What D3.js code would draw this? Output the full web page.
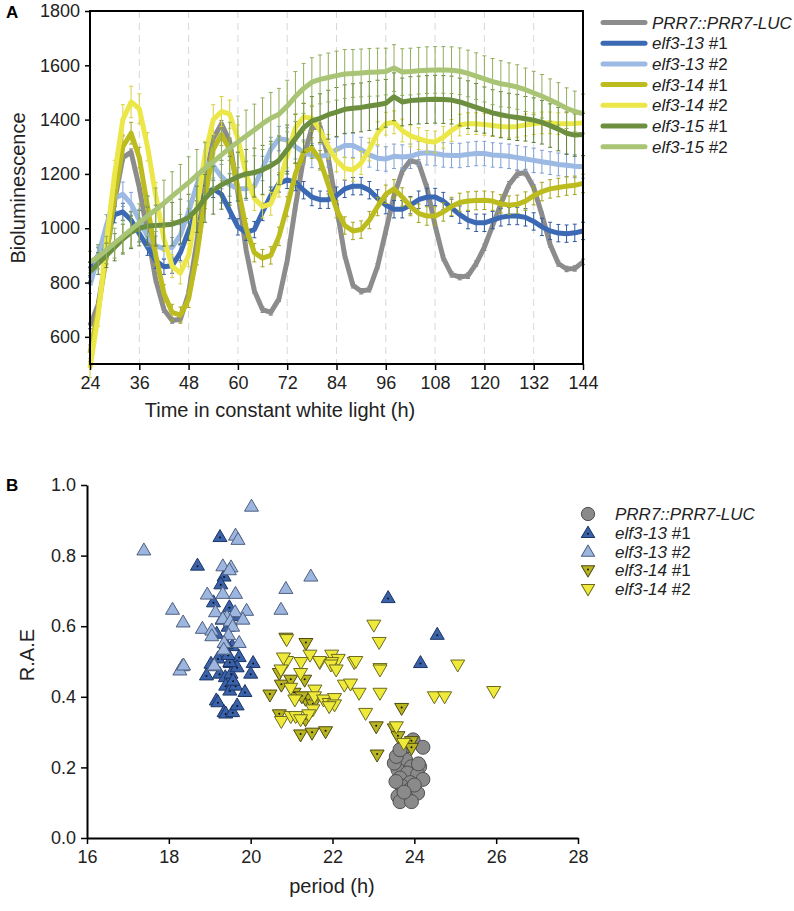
<!DOCTYPE html>
<html><head><meta charset="utf-8">
<script src="https://cdn.jsdelivr.net/npm/d3@7"></script>
<style>
body{margin:0;background:#fff;}
svg{display:block;font-family:"Liberation Sans",Arial,sans-serif;}
</style></head><body>
<svg id="c" width="794" height="911"></svg>
<script>
// ---------- Panel A data ----------
const hours = [24,26,28,30,32,34,36,38,40,42,44,46,48,50,52,54,56,58,60,62,64,66,68,70,72,74,76,78,80,82,84,86,88,90,92,94,96,98,100,102,104,106,108,110,112,114,116,118,120,122,124,126,128,130,132,134,136,138,140,142,144];
const xTicksA = [24,36,48,60,72,84,96,108,120,132,144];
const yTicksA = [600,800,1000,1200,1400,1600,1800];

const prr7 = [640,720,900,1100,1260,1280,1150,980,810,700,660,665,760,950,1170,1330,1385,1320,1130,920,770,700,690,740,880,1080,1260,1370,1375,1260,1080,900,790,768,775,860,990,1120,1210,1250,1240,1150,1010,890,830,820,825,870,930,1010,1090,1160,1200,1205,1150,1050,940,870,850,852,876];
const elf313_1 = [850,900,980,1050,1060,1030,980,930,880,858,862,910,990,1070,1125,1145,1125,1065,1005,985,995,1060,1120,1165,1178,1170,1140,1115,1105,1105,1120,1145,1155,1155,1140,1110,1085,1070,1070,1085,1105,1115,1115,1100,1075,1050,1030,1020,1020,1030,1040,1045,1045,1040,1025,1005,990,982,980,983,990];
const elf313_2 = [790,900,1010,1110,1125,1090,1030,970,935,925,930,975,1060,1160,1240,1230,1190,1160,1145,1145,1155,1220,1290,1330,1325,1300,1280,1268,1265,1270,1290,1305,1305,1290,1270,1258,1255,1265,1262,1265,1275,1278,1275,1270,1268,1268,1272,1275,1275,1270,1268,1265,1260,1255,1250,1245,1240,1235,1232,1228,1226];
const elf314_1 = [540,700,900,1120,1300,1350,1260,1080,900,760,690,680,740,900,1110,1290,1345,1290,1150,1000,910,890,900,970,1080,1200,1280,1295,1250,1160,1070,1010,990,995,1030,1080,1125,1145,1115,1080,1055,1045,1045,1060,1080,1095,1100,1102,1103,1100,1090,1085,1088,1100,1120,1135,1145,1150,1155,1158,1165];
const elf314_2 = [485,680,950,1200,1400,1465,1440,1300,1120,960,860,835,900,1070,1270,1400,1430,1420,1330,1200,1110,1080,1090,1160,1270,1370,1410,1405,1360,1300,1250,1220,1215,1240,1290,1350,1385,1390,1360,1340,1330,1320,1318,1335,1360,1380,1385,1385,1382,1378,1375,1373,1375,1380,1385,1388,1388,1385,1385,1386,1388];
const elf315_1 = [840,870,900,930,960,985,1000,1008,1010,1012,1015,1025,1040,1070,1110,1140,1160,1175,1190,1200,1205,1215,1230,1250,1290,1330,1370,1395,1405,1418,1428,1438,1442,1445,1450,1455,1460,1484,1465,1470,1472,1474,1475,1474,1472,1465,1455,1445,1435,1425,1418,1412,1408,1403,1398,1390,1378,1365,1350,1343,1345];
const elf315_2 = [875,895,920,945,970,995,1020,1045,1068,1092,1118,1143,1168,1195,1220,1245,1270,1295,1318,1340,1362,1385,1405,1420,1450,1485,1515,1538,1548,1555,1562,1568,1570,1572,1574,1575,1577,1590,1575,1577,1580,1582,1583,1583,1582,1578,1570,1560,1550,1540,1532,1527,1520,1510,1498,1486,1472,1458,1442,1430,1422];

const errPrr7 = [10,10,10,12,12,12,12,12,10,10,10,10,10,12,12,12,12,12,12,10,10,10,10,10,12,12,12,12,12,12,10,10,10,10,10,10,12,12,12,12,12,12,10,10,10,10,10,10,12,12,12,12,12,12,10,10,10,10,10,10,10];
const err313_1 = [25,28,30,30,32,32,30,30,28,28,28,30,32,32,32,32,32,30,30,30,30,32,32,32,32,32,32,32,32,32,32,32,32,32,32,32,32,32,32,32,32,32,32,32,32,32,32,32,32,32,32,32,32,32,32,32,32,32,32,32,32];
const err313_2 = [30,35,40,45,45,42,40,38,36,36,36,38,40,42,45,45,45,42,42,42,42,45,45,45,45,45,45,45,45,45,45,45,45,45,45,45,45,45,45,45,45,45,45,45,45,45,45,45,45,45,45,45,45,45,45,42,42,42,42,42,42];
const err314_1 = [30,32,35,38,40,40,38,36,34,32,30,30,32,35,38,40,40,40,38,36,34,32,32,34,36,38,38,38,36,34,32,32,32,32,32,34,34,34,34,34,34,34,34,34,34,34,34,34,34,34,34,34,34,34,34,34,34,34,34,34,34];
const err314_2 = [35,40,45,50,55,58,55,52,48,45,42,40,42,45,50,55,55,52,50,48,45,42,42,45,48,50,50,48,46,45,42,42,42,42,42,42,42,42,42,40,40,40,40,40,40,40,40,40,40,40,40,40,40,40,40,40,40,40,40,40,40];
const err315_1 = [35,40,45,50,55,60,65,70,75,78,80,82,85,85,88,88,90,90,90,90,90,90,90,90,90,90,90,90,90,90,90,90,90,90,90,90,88,88,88,88,88,88,88,88,88,88,88,88,85,85,85,85,85,82,82,80,80,80,78,78,78];
const err315_2 = [40,45,50,55,60,65,70,75,80,85,90,92,95,95,95,95,95,95,95,95,95,95,95,95,95,92,92,90,90,90,90,90,88,88,88,88,86,86,86,86,86,86,86,86,86,86,86,86,85,85,85,82,82,80,80,80,78,78,75,75,72];

// ---------- Panel B data (period h, R.A.E) ----------
const scatterPrr7 = [[23.97,0.278],[24.21,0.257],[23.69,0.24],[23.6,0.212],[23.79,0.221],[23.93,0.202],[24.13,0.202],[23.6,0.193],[23.83,0.184],[24.08,0.18],[24.21,0.166],[23.65,0.17],[23.9,0.157],[23.69,0.147],[23.93,0.142],[24.08,0.127],[23.79,0.118],[23.6,0.118],[23.65,0.103],[23.93,0.103],[23.51,0.212],[23.56,0.231],[23.85,0.262],[23.55,0.16],[24.0,0.15],[23.75,0.13],[24.1,0.21],[23.65,0.25]];
const scatter313_1 = [[19.25,0.854],[18.70,0.773],[19.35,0.742],[19.27,0.72],[19.09,0.669],[19.48,0.655],[19.17,0.58],[19.34,0.526],[19.55,0.545],[19.72,0.514],[20.06,0.497],[19.03,0.495],[19.50,0.497],[23.36,0.681],[24.56,0.577],[24.15,0.497],[18.92,0.462],[19.24,0.467],[19.38,0.457],[19.52,0.467],[19.39,0.433],[19.49,0.419],[19.63,0.433],[19.57,0.447],[19.86,0.415],[20.0,0.467],[19.16,0.391],[19.2,0.386],[19.35,0.358],[19.39,0.354],[19.56,0.358],[19.67,0.377],[19.67,0.485],[19.49,0.5],[19.3,0.62],[19.45,0.6],[19.4,0.55],[19.6,0.63],[19.2,0.51],[19.45,0.52]];
const scatter313_2 = [[17.39,0.816],[20.02,0.94],[19.63,0.858],[19.69,0.846],[19.32,0.771],[19.52,0.768],[19.48,0.76],[18.94,0.691],[19.32,0.693],[19.63,0.693],[18.09,0.648],[19.14,0.641],[19.90,0.645],[19.62,0.641],[18.35,0.612],[19.42,0.627],[19.32,0.622],[19.81,0.62],[19.50,0.615],[18.82,0.594],[19.05,0.589],[19.05,0.573],[19.56,0.60],[19.46,0.576],[19.35,0.554],[19.72,0.554],[19.34,0.535],[18.33,0.488],[19.12,0.488],[20.86,0.707],[20.74,0.648],[21.47,0.742],[18.27,0.476],[18.36,0.49],[19.11,0.49]];
const scatter314_1 = [[20.86,0.566],[21.35,0.551],[20.47,0.405],[20.70,0.466],[20.75,0.433],[21.32,0.447],[21.34,0.393],[21.52,0.377],[20.70,0.349],[21.34,0.335],[21.22,0.292],[21.5,0.297],[21.83,0.301],[23.07,0.315],[23.51,0.309],[23.60,0.287],[23.69,0.367],[23.93,0.273],[23.93,0.254],[23.09,0.235],[20.98,0.447],[21.06,0.41],[21.25,0.40]];
const scatter314_2 = [[20.88,0.562],[23.01,0.603],[23.14,0.554],[21.45,0.518],[21.98,0.518],[22.14,0.506],[21.98,0.497],[21.69,0.497],[21.23,0.497],[20.88,0.5],[20.80,0.51],[22.53,0.497],[25.06,0.49],[23.16,0.48],[20.74,0.476],[20.98,0.424],[21.22,0.466],[21.08,0.391],[21.57,0.419],[21.56,0.40],[21.78,0.391],[21.92,0.381],[22.05,0.395],[22.05,0.377],[21.92,0.372],[21.52,0.363],[21.42,0.349],[20.75,0.33],[20.98,0.344],[21.1,0.344],[21.22,0.335],[21.68,0.5],[21.96,0.49],[22.09,0.476],[22.29,0.433],[22.44,0.436],[22.65,0.41],[23.16,0.41],[23.16,0.476],[22.81,0.353],[23.56,0.315],[23.74,0.268],[24.49,0.40],[24.74,0.40],[25.94,0.415],[22.57,0.5]];
const xTicksB = [16,18,20,22,24,26,28];
const yTicksB = [0,0.2,0.4,0.6,0.8,1.0];

// ---------- drawing ----------
const svg = d3.select("#c");
const seriesA = [
  {name:"PRR7::PRR7-LUC", suffix:"", vals:prr7, err:errPrr7, color:"#8c8c8c", bar:"#7a7a7a"},
  {name:"elf3-13", suffix:" #1", vals:elf313_1, err:err313_1, color:"#3b69b4", bar:"#2f5a9e"},
  {name:"elf3-13", suffix:" #2", vals:elf313_2, err:err313_2, color:"#9bb9e3", bar:"#7f9fd0"},
  {name:"elf3-14", suffix:" #1", vals:elf314_1, err:err314_1, color:"#bcbc1f", bar:"#a5a51a"},
  {name:"elf3-14", suffix:" #2", vals:elf314_2, err:err314_2, color:"#ece748", bar:"#d6d03a"},
  {name:"elf3-15", suffix:" #1", vals:elf315_1, err:err315_1, color:"#6b8f3e", bar:"#5a7c32"},
  {name:"elf3-15", suffix:" #2", vals:elf315_2, err:err315_2, color:"#a8c474", bar:"#8fae5c"}
];

const xA = d3.scaleLinear().domain([24,144]).range([90,583]);
const yA = d3.scaleLinear().domain([500,1800]).range([364,11]);
const gA = svg.append("g");

// dashed verticals
gA.selectAll("line.grid").data(xTicksA.slice(1,-1)).enter().append("line")
  .attr("x1",d=>xA(d)).attr("x2",d=>xA(d)).attr("y1",yA(1800)).attr("y2",yA(500))
  .attr("stroke","#d8d8d8").attr("stroke-width",1).attr("stroke-dasharray","7,5");

const line = d3.line().x((d,i)=>xA(hours[i])).y(d=>yA(d));
seriesA.forEach(s=>{
  const g = gA.append("g");
  const bars = g.selectAll("g.eb").data(s.vals).enter().append("g").attr("stroke",s.bar).attr("stroke-width",1);
  bars.append("line").attr("x1",(d,i)=>xA(hours[i])).attr("x2",(d,i)=>xA(hours[i]))
    .attr("y1",(d,i)=>yA(d-s.err[i])).attr("y2",(d,i)=>yA(d+s.err[i]));
  bars.append("line").attr("x1",(d,i)=>xA(hours[i])-2).attr("x2",(d,i)=>xA(hours[i])+2)
    .attr("y1",(d,i)=>yA(d+s.err[i])).attr("y2",(d,i)=>yA(d+s.err[i]));
  bars.append("line").attr("x1",(d,i)=>xA(hours[i])-2).attr("x2",(d,i)=>xA(hours[i])+2)
    .attr("y1",(d,i)=>yA(d-s.err[i])).attr("y2",(d,i)=>yA(d-s.err[i]));
  g.append("path").datum(s.vals).attr("d",line).attr("fill","none")
    .attr("stroke",s.color).attr("stroke-width",5).attr("stroke-linejoin","round");
});

// frame
gA.append("rect").attr("x",90).attr("y",11).attr("width",583-90).attr("height",364-11)
  .attr("fill","none").attr("stroke","#000").attr("stroke-width",2);

const axYA = gA.append("g").attr("transform","translate(90,0)")
  .call(d3.axisLeft(yA).tickValues(yTicksA).tickFormat(d3.format("d")).tickSize(5).tickSizeOuter(0).tickPadding(5));
const axXA = gA.append("g").attr("transform","translate(0,364)")
  .call(d3.axisBottom(xA).tickValues(xTicksA).tickFormat(d3.format("d")).tickSize(6).tickSizeOuter(0).tickPadding(6));
[axYA,axXA].forEach(a=>{
  a.select(".domain").remove();
  a.selectAll("line").attr("stroke","#000").attr("stroke-width",1.5);
  a.selectAll("text").attr("font-size",18).attr("fill","#222").attr("font-family","Liberation Sans, Arial, sans-serif");
});
gA.append("text").attr("transform","translate(25,188) rotate(-90)").attr("text-anchor","middle")
  .attr("font-size",20).attr("fill","#222").text("Bioluminescence");
gA.append("text").attr("x",280).attr("y",417).attr("text-anchor","middle")
  .attr("font-size",20).attr("fill","#222").text("Time in constant white light (h)");
svg.append("text").attr("x",6).attr("y",18).attr("font-size",17).attr("font-weight","bold").text("A");

// legend A
const legA = svg.append("g");
seriesA.forEach((s,i)=>{
  const y = 22.5 + i*20.7;
  legA.append("line").attr("x1",603).attr("x2",645).attr("y1",y).attr("y2",y)
    .attr("stroke",s.color).attr("stroke-width",5).attr("stroke-linecap","round");
  const t = legA.append("text").attr("x",652).attr("y",y+6).attr("font-size",17).attr("fill","#222");
  t.append("tspan").attr("font-style","italic").text(s.name);
  if(s.suffix) t.append("tspan").text(s.suffix);
});

// ---------- Panel B ----------
const xB = d3.scaleLinear().domain([16,28]).range([87,578]);
const yB = d3.scaleLinear().domain([0,1]).range([838,485]);
const gB = svg.append("g");
const axYB = gB.append("g").attr("transform","translate(87,0)")
  .call(d3.axisLeft(yB).tickValues(yTicksB).tickFormat(d3.format(".1f")).tickSize(6).tickSizeOuter(0).tickPadding(5));
const axXB = gB.append("g").attr("transform","translate(0,838)")
  .call(d3.axisBottom(xB).tickValues(xTicksB).tickFormat(d3.format("d")).tickSize(6).tickSizeOuter(0).tickPadding(6));
[axYB,axXB].forEach(a=>{
  a.select(".domain").attr("stroke","#000").attr("stroke-width",2);
  a.selectAll("line").attr("stroke","#000").attr("stroke-width",1.5);
  a.selectAll("text").attr("font-size",18).attr("fill","#222").attr("font-family","Liberation Sans, Arial, sans-serif");
});
gB.append("text").attr("transform","translate(34,655) rotate(-90)").attr("text-anchor","middle")
  .attr("font-size",20).attr("fill","#222").text("R.A.E");
gB.append("text").attr("x",332).attr("y",893).attr("text-anchor","middle")
  .attr("font-size",20).attr("fill","#222").text("period (h)");
svg.append("text").attr("x",6).attr("y",491).attr("font-size",17).attr("font-weight","bold").text("B");

const triUp = "M0,-7 L7,5 L-7,5 Z";
const triDown = "M0,7 L7,-5 L-7,-5 Z";
const seriesB = [
  {name:"PRR7::PRR7-LUC", suffix:"", pts:scatterPrr7, shape:"circle", fill:"#8a8a8a", stroke:"#505050", dot:false},
  {name:"elf3-13", suffix:" #1", pts:scatter313_1, shape:triUp, fill:"#3a62ab", stroke:"#1d3564", dot:true},
  {name:"elf3-13", suffix:" #2", pts:scatter313_2, shape:triUp, fill:"#9db6df", stroke:"#4f5f80", dot:false},
  {name:"elf3-14", suffix:" #1", pts:scatter314_1, shape:triDown, fill:"#b9b520", stroke:"#4d4a10", dot:true},
  {name:"elf3-14", suffix:" #2", pts:scatter314_2, shape:triDown, fill:"#efea3a", stroke:"#6b6a20", dot:false}
];
function drawMarker(g, s, x, y, scale){
  if(s.shape==="circle"){
    g.append("circle").attr("cx",x).attr("cy",y).attr("r",7*scale).attr("fill",s.fill).attr("stroke",s.stroke).attr("stroke-width",1);
  } else {
    g.append("path").attr("d",s.shape).attr("transform",`translate(${x},${y}) scale(${scale})`)
      .attr("fill",s.fill).attr("stroke",s.stroke).attr("stroke-width",1/scale).attr("stroke-linejoin","round");
    if(s.dot) g.append("circle").attr("cx",x).attr("cy",y+(s.shape===triUp?1:-1)*scale).attr("r",1).attr("fill","#111");
  }
}
seriesB.forEach(s=>{
  const g = gB.append("g");
  s.pts.forEach(p=>drawMarker(g, s, xB(p[0]), yB(p[1]), 1));
});

// legend B
const legB = svg.append("g");
seriesB.forEach((s,i)=>{
  const y = 514 + i*18.8;
  drawMarker(legB, s, 588, y, 0.95);
  const t = legB.append("text").attr("x",615).attr("y",y+6).attr("font-size",17).attr("fill","#222");
  t.append("tspan").attr("font-style","italic").text(s.name);
  if(s.suffix) t.append("tspan").text(s.suffix);
});
</script></body></html>
